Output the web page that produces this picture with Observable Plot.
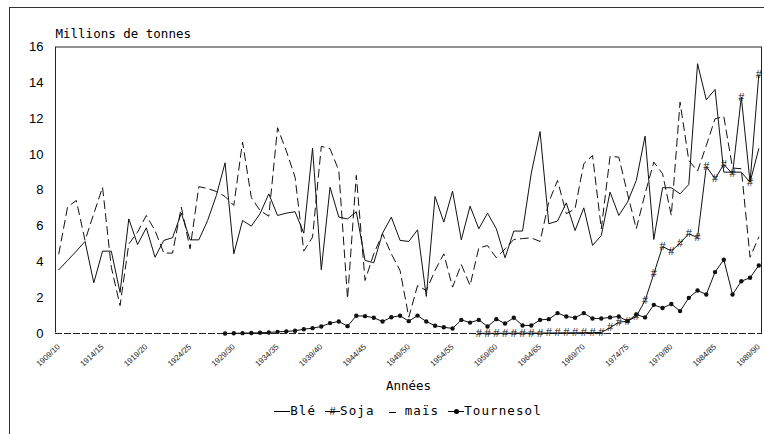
<!DOCTYPE html>
<html><head><meta charset="utf-8">
<script src="https://cdn.jsdelivr.net/npm/d3@7"></script>
<script src="https://cdn.jsdelivr.net/npm/@observablehq/plot@0.6"></script>
<style>
html,body{margin:0;padding:0;background:#fff;overflow:hidden}
#wrap{position:relative;width:764px;height:434px;overflow:hidden;background:#fff}
#outer{position:absolute;left:9px;top:7px;width:800px;height:500px;border-left:1px solid #333;border-top:1px solid #333;box-sizing:border-box}
#chart{position:absolute;left:0;top:0}
#legend{position:absolute;left:55px;width:706px;top:403px;text-align:center;font-family:"DejaVu Sans Mono",monospace;font-size:12.5px;letter-spacing:1.1px;color:#000;white-space:nowrap;line-height:16px}
.sw{display:inline-block;position:relative;height:14px;vertical-align:middle;margin-top:-2px}
.sw .ln{position:absolute;left:0;right:0;top:7px;border-top:1px solid #000}
.sw .mk{position:absolute;left:0;right:0;top:0;text-align:center;font-family:"Liberation Sans";font-size:11px;line-height:14px;letter-spacing:0}
.sw .dt{position:absolute;left:50%;top:5px;width:5px;height:5px;margin-left:-2.5px;border-radius:50%;background:#000}
.gap{display:inline-block;width:9px}
</style>
</head><body>
<div id="wrap"><div id="chart"></div><div id="outer"></div><div id="legend"></div></div>
<script>
const years = d3.range(1909, 1990);
const ble = [3.56,4.08,4.6,5.14,2.83,4.6,4.6,2.3,6.4,4.97,5.9,4.26,5.2,5.35,6.72,5.23,5.23,6.3,7.7,9.53,
  4.45,6.31,6.0,6.69,7.8,6.59,6.72,6.8,5.6,10.35,3.56,8.17,6.5,6.4,6.8,4.08,3.95,5.6,6.5,5.2,
  5.14,5.79,2.07,7.65,6.22,7.95,5.23,7.11,5.85,6.72,5.85,4.23,5.72,5.72,8.96,11.28,6.13,6.28,7.3,5.75,
  7.02,4.92,5.47,7.9,6.59,7.34,8.55,11.02,5.25,8.14,8.14,7.8,8.32,15.07,13.05,13.63,9.01,9.01,9.01,8.45,10.32];
const mais = [4.45,7.06,7.43,5.2,6.69,8.17,3.7,1.56,5.0,5.66,6.59,5.75,4.49,4.49,7.06,4.73,8.2,8.1,7.93,7.65,
  7.15,10.69,7.6,6.87,6.55,11.49,10.2,8.73,4.6,5.38,10.45,10.32,9.1,1.94,8.83,2.96,4.45,5.57,4.45,3.52,
  0.91,2.68,2.4,3.52,4.45,2.59,3.85,2.68,4.78,4.91,4.23,4.73,5.25,5.3,5.34,5.14,7.34,8.55,6.69,6.97,
  9.48,9.94,5.85,9.89,9.85,7.8,5.85,7.8,9.57,8.92,6.59,12.92,9.66,9.07,10.5,11.99,12.12,9.24,9.2,4.26,5.38];
const soja = [null,null,null,null,null,null,null,null,null,null,null,null,null,null,null,null,null,null,null,null,
  null,null,null,null,null,null,null,null,null,null,null,null,null,null,null,null,null,null,null,null,
  null,null,null,null,null,null,null,null,0.01,0.01,0.01,0.01,0.02,0.02,0.02,0.02,0.03,0.03,0.04,0.04,
  0.05,0.05,0.06,0.32,0.63,0.69,0.95,1.84,3.33,4.86,4.6,5.05,5.57,5.35,9.33,8.64,9.44,8.92,13.2,8.45,14.45];
const tournesol = [null,null,null,null,null,null,null,null,null,null,null,null,null,null,null,null,null,null,null,0.0,
  0.01,0.02,0.03,0.04,0.06,0.09,0.12,0.15,0.24,0.3,0.39,0.58,0.67,0.41,0.99,0.97,0.88,0.67,0.91,0.99,
  0.69,1.0,0.67,0.43,0.35,0.28,0.76,0.61,0.76,0.39,0.8,0.56,0.88,0.45,0.45,0.76,0.8,1.14,0.95,0.88,
  1.14,0.84,0.84,0.9,0.95,0.69,1.06,0.9,1.6,1.42,1.65,1.25,1.99,2.4,2.18,3.43,4.12,2.18,2.92,3.11,3.8];
const xTickYears = [1909,1914,1919,1924,1929,1934,1939,1944,1949,1954,1959,1964,1969,1974,1979,1984,1989];
const xTickLabels = ["1909/10","1914/15","1919/20","1924/25","1929/30","1934/35","1939/40","1944/45","1949/50",
  "1954/55","1959/60","1964/65","1969/70","1974/75","1979/80","1984/85","1989/90"];
const yTicks = [0,2,4,6,8,10,12,14,16];
const yTitle = "Millions de tonnes";
const xTitle = "Années";
const seriesNames = ["Blé","Soja","maïs","Tournesol"];

const labelByYear = new Map(xTickYears.map((y,i)=>[y, xTickLabels[i]]));
const ink = "#111";

const chart = Plot.plot({
  width: 764, height: 395,
  marginLeft: 55, marginRight: 3, marginTop: 46.5, marginBottom: 62,
  style: {background: "white", color: "#000", fontFamily: "Liberation Sans", overflow: "visible"},
  x: {domain: [1909, 1989], insetLeft: 3.3, insetRight: 2.7},
  y: {domain: [0, 16]},
  marks: [
    Plot.frame({stroke: "#222", strokeWidth: 1}),
    Plot.ruleY([0], {stroke: "white", strokeWidth: 2}),
    Plot.ruleY([0], {stroke: "#222", strokeWidth: 1, strokeDasharray: "7,2"}),
    Plot.axisY({ticks: yTicks, tickSize: 0, tickPadding: 12, fontSize: 13, fontFamily: "Liberation Sans", label: null}),
    Plot.axisX({ticks: xTickYears, tickFormat: d => labelByYear.get(d), tickRotate: -43, tickSize: 0,
      tickPadding: 12, fontSize: 8, fontFamily: "Liberation Sans", fill: "#222", label: null}),
    Plot.text([yTitle], {text: d => d, frameAnchor: "top-left", textAnchor: "start", lineAnchor: "bottom",
      dy: -9.5, fontFamily: "DejaVu Sans Mono", fontSize: 12.5}),
    Plot.text([xTitle], {text: d => d, frameAnchor: "bottom", lineAnchor: "bottom",
      dy: 56, fontFamily: "DejaVu Sans Mono", fontSize: 12.5}),
    Plot.line(years, {x: years, y: mais, stroke: ink, strokeWidth: 1, strokeDasharray: "8,5"}),
    Plot.line(years, {x: years, y: ble, stroke: ink, strokeWidth: 1}),
    Plot.line(years, {x: years, y: tournesol, stroke: ink, strokeWidth: 1}),
    Plot.dot(years, {x: years, y: tournesol, r: 2.2, fill: ink, stroke: "none"}),
    Plot.line(years, {x: years, y: soja, stroke: ink, strokeWidth: 1}),
    Plot.text(years, {x: years, y: soja, text: () => "#", fontSize: 11, fontFamily: "Liberation Sans", fill: ink})
  ]
});
document.getElementById("chart").appendChild(chart);

const lg = document.getElementById("legend");
const sw = {
  "Blé": '<span class="sw" style="width:16px"><span class="ln"></span></span>',
  "Soja": '<span class="sw" style="width:15px"><span class="ln"></span><span class="mk">#</span></span>',
  "maïs": '<span class="sw" style="width:7px;margin:0 9px 0 5px"><span class="ln"></span></span>',
  "Tournesol": '<span class="sw" style="width:16px"><span class="ln"></span><span class="dt"></span></span>'
};
lg.innerHTML = seriesNames.map(n => sw[n] + '<span>' + n + '</span>').join('<span class="gap"></span>');
</script>
</body></html>
